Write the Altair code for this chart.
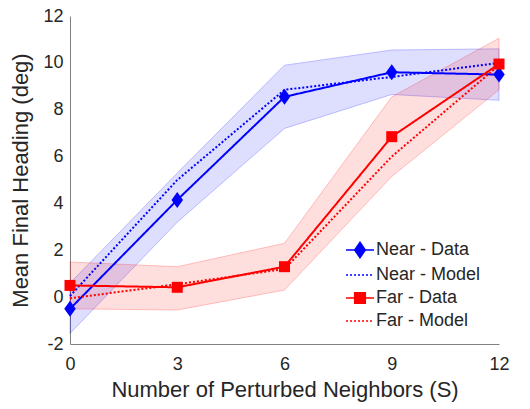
import altair as alt
import pandas as pd

neighbors = [0, 3, 6, 9, 12]
near_data = [-0.5, 4.15, 8.55, 9.6, 9.5]
near_model = [0.05, 5.0, 8.85, 9.4, 10.0]
near_lo = [-1.55, 3.2, 7.2, 8.65, 8.4]
near_hi = [0.6, 5.3, 9.9, 10.55, 10.6]
far_data = [0.5, 0.42, 1.3, 6.85, 9.95]
far_model = [-0.05, 0.55, 1.2, 6.0, 9.9]
far_lo = [-0.5, -0.55, 0.3, 5.15, 8.85]
far_hi = [1.5, 1.3, 2.3, 8.55, 11.05]

series_names = ["Near - Data", "Near - Model", "Far - Data", "Far - Model"]
series_colors = ["#0000ff", "#0000ff", "#ff0000", "#ff0000"]
series_dash = [[1, 0], [2, 2], [1, 0], [2, 2]]
x_ticks = [0, 3, 6, 9, 12]
y_ticks = [-2, 0, 2, 4, 6, 8, 10, 12]

FONT = "Liberation Sans"
TXT = "#262626"

legend_paths = [
    "M-1,0L3,0M1,-1.1L1.76,0L1,1.1L0.24,0Z",
    "M-1,0L3,0",
    "M-1,0L3,0M0.24,-0.76L1.76,-0.76L1.76,0.76L0.24,0.76Z",
    "M-1,0L3,0",
]

band_near = pd.DataFrame({"x": neighbors, "lo": near_lo, "hi": near_hi})
band_far = pd.DataFrame({"x": neighbors, "lo": far_lo, "hi": far_hi})

rows = []
for name, vals in zip(series_names, [near_data, near_model, far_data, far_model]):
    for xv, yv in zip(neighbors, vals):
        rows.append({"x": xv, "y": yv, "series": name})
lines_df = pd.DataFrame(rows)

x_enc = alt.X("x:Q", scale=alt.Scale(domain=[0, 12], nice=False),
              axis=alt.Axis(values=x_ticks, title="Number of Perturbed Neighbors (S)"))
y_enc = alt.Y("y:Q", scale=alt.Scale(domain=[-2, 12], nice=False),
              axis=alt.Axis(values=y_ticks, title="Mean Final Heading (deg)",
                            labelExpr="toString(datum.value)"))

leg = alt.Legend(title=None, orient="none", legendX=274, legendY=225)
color_enc = alt.Color("series:N", scale=alt.Scale(domain=series_names, range=series_colors), legend=leg)
dash_enc = alt.StrokeDash("series:N", scale=alt.Scale(domain=series_names, range=series_dash), legend=leg)
shape_enc = alt.Shape("series:N", scale=alt.Scale(domain=series_names, range=legend_paths), legend=leg)

def band(df, col):
    return alt.Chart(df).mark_area(
        fill=col, fillOpacity=0.13, stroke=col, strokeOpacity=0.22, strokeWidth=1
    ).encode(
        x=alt.X("x:Q", scale=alt.Scale(domain=[0, 12], nice=False),
                axis=alt.Axis(values=x_ticks, title="Number of Perturbed Neighbors (S)")),
        y=alt.Y("lo:Q", scale=alt.Scale(domain=[-2, 12], nice=False),
                axis=alt.Axis(values=y_ticks, title="Mean Final Heading (deg)",
                              labelExpr="toString(datum.value)")),
        y2="hi:Q",
    )

lines = alt.Chart(lines_df).mark_line(strokeWidth=2).encode(
    x=x_enc, y=y_enc, color=color_enc, strokeDash=dash_enc, detail="series:N"
)

near_pts = alt.Chart(lines_df).transform_filter(
    alt.datum.series == "Near - Data"
).mark_point(filled=True, opacity=1, size=256,
             shape="M0,-1L0.72,0L0,1L-0.72,0Z").encode(x=x_enc, y=y_enc, color=color_enc)

far_pts = alt.Chart(lines_df).transform_filter(
    alt.datum.series == "Far - Data"
).mark_point(filled=True, opacity=1, size=121, shape="square").encode(x=x_enc, y=y_enc, color=color_enc)

legend_layer = alt.Chart(lines_df).transform_filter("false").mark_point(
    filled=True, stroke="#000000", strokeWidth=1.2
).encode(
    x=x_enc, y=y_enc, color=color_enc, strokeDash=dash_enc, shape=shape_enc
)

chart = alt.layer(
    band(band_near, "#0000ff"), band(band_far, "#ff0000"), lines, near_pts, far_pts, legend_layer
).properties(
    width=429, height=328,
    autosize=alt.AutoSizeParams(type="none"),
    padding={"left": 70, "top": 16, "right": 31, "bottom": 65},
).configure_view(stroke=None).configure_axis(
    grid=False, domainColor="#808080", domainWidth=1, ticks=False, labelFlush=False,
    labelFont=FONT, labelFontSize=18, labelColor=TXT,
    titleFont=FONT, titleFontSize=22, titleFontWeight="normal", titleColor=TXT,
).configure_axisX(labelPadding=11, titlePadding=6).configure_axisY(
    labelPadding=7, titlePadding=10
).configure_legend(
    labelFont=FONT, labelFontSize=18, labelColor=TXT, symbolSize=196,
    labelOffset=14, rowPadding=5, padding=0, symbolOpacity=1,
)

chart.save("out.html", embed_options={"renderer": "svg", "actions": False})
